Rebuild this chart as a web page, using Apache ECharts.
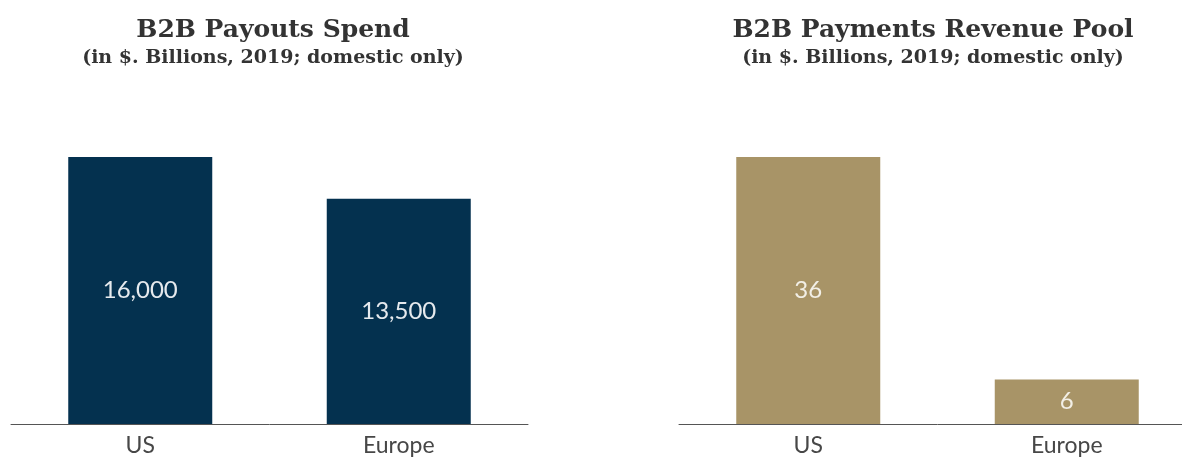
<!DOCTYPE html>
<html>
<head>
<meta charset="utf-8">
<script src="https://cdn.jsdelivr.net/npm/echarts@6/dist/echarts.min.js"></script>
<style>html,body{margin:0;padding:0;background:#fff;overflow:hidden}#c{width:1200px;height:458px}</style>
</head>
<body>
<div id="c"></div>
<script>
const categories = ['US', 'Europe'];
const spendValues = [16000, 13500];
const revenueValues = [36, 6];
const titles = ['B2B Payouts Spend', 'B2B Payments Revenue Pool'];
const subtitle = '(in $. Billions, 2019; domestic only)';

const chart = echarts.init(document.getElementById('c'), null, {renderer: 'canvas'});
const titleStyle = {fontFamily: 'DejaVu Serif', fontWeight: 'bold', fontSize: 25, color: '#333333'};
const subStyle = {fontFamily: 'DejaVu Serif', fontWeight: 'bold', fontSize: 19, color: '#333333'};
function xAx(idx) {
  return {
    type: 'category', gridIndex: idx, data: categories,
    axisLine: {lineStyle: {color: '#555', width: 1}},
    axisTick: {show: false},
    axisLabel: {fontFamily: 'Lato', fontSize: 23, color: '#474747', margin: 10}
  };
}
function yAx(idx, max) {
  return {type: 'value', gridIndex: idx, min: 0, max: max, show: false, splitLine: {show: false}};
}
function labelFmt(p) { return p.value.toLocaleString('en-US'); }
chart.setOption({
  animation: false,
  title: [
    {text: titles[0], subtext: subtitle, left: 268, top: 13, textAlign: 'center', textStyle: titleStyle, subtextStyle: subStyle, itemGap: 6},
    {text: titles[1], subtext: subtitle, left: 928, top: 13, textAlign: 'center', textStyle: titleStyle, subtextStyle: subStyle, itemGap: 6}
  ],
  grid: [
    {left: 11, top: 157, width: 517, height: 267},
    {left: 679, top: 157, width: 517, height: 267}
  ],
  xAxis: [xAx(0), xAx(1)],
  yAxis: [yAx(0, 16000), yAx(1, 36)],
  series: [
    {type: 'bar', xAxisIndex: 0, yAxisIndex: 0, data: spendValues, barWidth: 144,
     itemStyle: {color: '#04314F'},
     label: {show: true, position: 'inside', formatter: labelFmt, fontFamily: 'Lato', fontSize: 24, color: '#E6EAEE'}},
    {type: 'bar', xAxisIndex: 1, yAxisIndex: 1, data: revenueValues, barWidth: 144,
     itemStyle: {color: '#A89467'},
     label: {show: true, position: 'inside', formatter: labelFmt, fontFamily: 'Lato', fontSize: 24, color: '#F2EFE6'}}
  ]
});
</script>
</body>
</html>
